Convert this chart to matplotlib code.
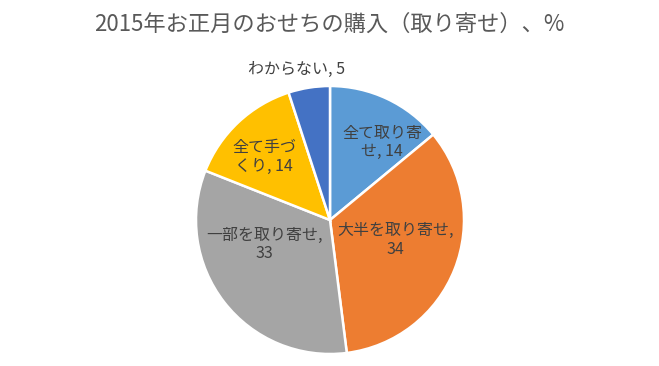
import numpy as np
import matplotlib.pyplot as plt

plt.rcParams['font.family'] = ['Noto Sans CJK JP', 'DejaVu Sans']

labels = ['全て取り寄\nせ, 14', '大半を取り寄せ,\n34', '一部を取り寄せ,\n33', '全て手づ\nくり, 14', 'わからない, 5']
values = [14, 34, 33, 14, 5]
colors = ['#5B9BD5', '#ED7D31', '#A5A5A5', '#FFC000', '#4472C4']
# label centres in pie data units (radius = 1)
label_xy = [(0.39, 0.58), (0.49, -0.15), (-0.49, -0.18), (-0.49, 0.47), (-0.25, 1.12)]

fig = plt.figure(figsize=(6.59, 3.66), dpi=100)
fig.patch.set_facecolor('white')
ax = fig.add_axes([196 / 659, 12 / 366, 268 / 659, 268 / 366])

ax.pie(values, colors=colors, startangle=90, counterclock=False, radius=1,
       wedgeprops=dict(edgecolor='white', linewidth=1.8))

for txt, (x, y) in zip(labels, label_xy):
    ax.text(x, y, txt, ha='center', va='center', fontsize=11.5, color='#404040',
            linespacing=1.1)

ax.set_xlim(-1, 1)
ax.set_ylim(-1, 1)
ax.set_aspect('equal')
ax.axis('off')

fig.text(0.5, 1 - 24 / 366, '2015年お正月のおせちの購入（取り寄せ）、%', ha='center', va='center',
         fontsize=16, color='#595959')

fig.savefig('out.png', dpi=100)
